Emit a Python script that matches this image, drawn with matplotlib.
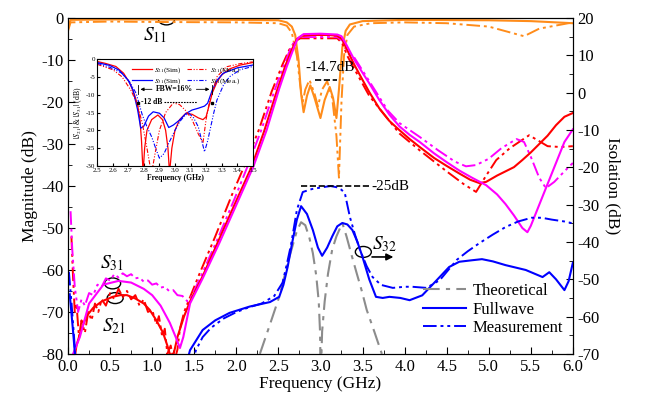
import matplotlib
matplotlib.use('Agg')
import matplotlib.pyplot as plt
from matplotlib.patches import Ellipse
from matplotlib.ticker import MultipleLocator

plt.rcParams['font.family'] = ['Liberation Serif', 'DejaVu Serif']
plt.rcParams['mathtext.fontset'] = 'stix'
plt.rcParams['axes.unicode_minus'] = False

# ---- main panel, left axis: Magnitude (dB) ----
s11_fw_f = [0.0, 0.03, 0.5, 1.0, 2.0, 2.5, 2.6, 2.66, 2.7, 2.74, 2.77, 2.8, 2.84, 2.88, 2.93, 3.0,
            3.05, 3.11, 3.15, 3.19, 3.22, 3.26, 3.3, 3.35, 3.5, 4.0, 5.0, 5.5, 6.0]
s11_fw = [-2.5, -0.4, -0.3, -0.3, -0.4, -0.5, -1.0, -2.0, -4.0, -10.0, -18.0, -22.4, -18.5, -16.0, -19.0, -23.8,
          -19.5, -16.4, -19.0, -23.8, -17.0, -7.0, -3.0, -1.5, -0.7, -0.4, -0.5, -0.7, -1.2]
s11_me_f = [0.0, 0.03, 0.5, 1.0, 2.0, 2.5, 2.6, 2.66, 2.72, 2.76, 2.79, 2.82, 2.87, 2.93, 2.97, 3.02,
            3.08, 3.14, 3.19, 3.22, 3.25, 3.28, 3.32, 3.4, 3.6, 4.0, 4.5, 5.0, 5.42, 5.6, 6.0]
s11_me = [-3.0, -1.0, -0.8, -0.9, -1.0, -1.2, -1.8, -3.5, -9.0, -16.0, -20.0, -17.0, -14.7, -18.0, -21.0, -17.0,
          -15.0, -19.0, -28.0, -38.0, -20.0, -9.0, -4.0, -2.0, -1.2, -1.0, -1.2, -2.0, -4.3, -2.5, -1.0]

s21_fw_f = [0.05, 0.1, 0.16, 0.22, 0.3, 0.4, 0.53, 0.62, 0.7, 0.8, 0.9, 0.97, 1.05, 1.13, 1.18, 1.21, 1.25,
            1.3, 1.38, 1.45, 1.6, 1.8, 2.0, 2.18, 2.33, 2.48, 2.58, 2.66, 2.72, 2.78, 2.9, 3.1, 3.2,
            3.26, 3.3, 3.4, 3.5, 3.58, 3.7, 3.82, 3.94, 4.06, 4.18, 4.35, 4.5, 4.65, 4.78, 4.89, 4.97,
            5.1, 5.2, 5.3, 5.4, 5.5, 5.6, 5.7, 5.8, 5.9, 6.0]
s21_fw = [-85, -78, -74, -71, -69, -67.5, -66.4, -66, -66, -66.8, -68, -69.5, -72, -75, -78, -80, -80.5,
          -76, -71, -67.5, -61.5, -52.5, -43.5, -35.5, -27, -17.5, -11.5, -7.5, -5, -4.2, -4.0, -4.0, -4.2,
          -5.0, -6.8, -11, -14.7, -17.6, -21.5, -24.5, -26.7, -28.8, -30.7, -33.3, -35.2, -37, -38.5, -39.3, -39,
          -37.5, -36.5, -35.5, -33.8, -32, -30, -28, -25.5, -23.5, -22.6]
s21_me_f = [0.04, 0.06, 0.08, 0.1, 0.13, 0.16, 0.2, 0.24, 0.28, 0.32, 0.36, 0.4, 0.45, 0.5, 0.55, 0.6, 0.65,
            0.7, 0.75, 0.8, 0.85, 0.9, 0.95, 1.0, 1.05, 1.08, 1.12, 1.15, 1.18, 1.22, 1.26, 1.3, 1.33,
            1.38, 1.42, 1.55, 1.75, 1.95, 2.1, 2.27, 2.42, 2.55, 2.63, 2.7, 2.76, 3.2, 3.26, 3.32, 3.4,
            3.58, 3.8, 3.94, 4.18, 4.5, 4.7, 4.85, 4.97, 5.09, 5.25, 5.48, 5.6, 5.7, 5.85, 6.0]
s21_me = [-52, -62, -70, -68, -76, -72, -75, -70, -72, -68, -70, -67, -68.5, -65.5, -67, -64.5, -66.5,
          -65, -67, -66, -68.5, -67, -70, -69.5, -73, -71, -76, -74, -80, -78, -82, -79, -74,
          -70, -68, -61.5, -52, -42, -35, -26.5, -17.5, -11, -7.5, -5.5, -4.8, -4.8, -6, -9, -12,
          -18.5, -24, -27.5, -31.5, -36.5, -39.5, -41.4, -37.5, -33.8, -31, -27.9, -29.3, -30.5, -30.7, -30.5]

s31_fw_f = [0.06, 0.14, 0.25, 0.42, 0.6, 0.75, 0.9, 1.0, 1.1, 1.21, 1.28, 1.33, 1.37, 1.45, 1.6, 1.8, 2.0,
            2.2, 2.36, 2.51, 2.6, 2.67, 2.73, 2.8, 3.0, 3.2, 3.25, 3.3, 3.4, 3.5, 3.58, 3.7, 3.82, 3.94,
            4.06, 4.18, 4.35, 4.5, 4.65, 4.8, 4.97, 5.1, 5.2, 5.3, 5.4, 5.46, 5.5, 5.6, 5.7, 5.8, 5.9, 6.0]
s31_fw = [-80, -76, -68, -63.5, -62.6, -63, -64.5, -66, -68.5, -72.6, -76, -78.6, -76, -68, -62, -53.5, -44.5,
          -35.5, -26.7, -16.8, -11.5, -7.8, -4.8, -3.8, -3.7, -3.9, -4.3, -6, -9.8, -13, -15.5, -19.5, -23, -25.8,
          -27.8, -29.5, -32.2, -34.3, -36.3, -38, -39.8, -42, -44.3, -47, -50, -51, -49.5, -44.5, -39.5, -34.5, -29.5, -26.5]
s31_me_f = [0.03, 0.05, 0.08, 0.12, 0.16, 0.2, 0.25, 0.3, 0.35, 0.4, 0.45, 0.5, 0.55, 0.6, 0.65, 0.7, 0.75,
            0.8, 0.85, 0.9, 0.95, 1.0, 1.05, 1.1, 1.15, 1.2, 1.25, 1.3, 1.36, 1.42, 1.45, 1.58, 1.78, 1.98,
            2.13, 2.3, 2.45, 2.56, 2.64, 2.7, 2.76, 3.2, 3.27, 3.33, 3.4, 3.58, 3.8, 3.94, 4.18, 4.4, 4.6,
            4.73, 4.85, 5.0, 5.15, 5.33, 5.42, 5.5, 5.6, 5.68, 5.78, 5.9, 6.0]
s31_me = [-46, -55, -64, -70, -67, -68.5, -65.5, -66, -63.5, -64, -62, -62.5, -61, -61.8, -60.8, -61.5, -61,
          -62, -61.8, -62.8, -62.5, -63.5, -63.2, -64.2, -64, -65, -64.8, -66, -66.2, -67.5, -67, -61.5, -52.5, -43,
          -35.5, -26.5, -17.5, -11.5, -7.5, -5.3, -4.5, -4.5, -5.5, -8.5, -9.3, -15, -22, -25, -28.3, -31.5, -34.2,
          -35.3, -35, -33.5, -31, -28.8, -29.5, -33, -38, -40.5, -39, -36.5, -34.5]

# ---- main panel, right axis: Isolation (dB), S32 ----
s32_th_f = [2.28, 2.4, 2.51, 2.63, 2.72, 2.77, 2.82, 2.87, 2.91, 2.95, 2.98, 2.995, 3.0, 3.01, 3.02, 3.05,
            3.09, 3.14, 3.19, 3.26, 3.31, 3.37, 3.43, 3.49, 3.55, 3.64, 3.73]
s32_th = [-70, -62.1, -54.7, -44.1, -37, -34.7, -35.5, -39, -43, -49, -56, -64, -72, -72, -64, -56,
          -48.5, -42, -38.5, -34.9, -38.5, -43.5, -48.3, -53, -58.2, -64, -70]
s32_fw_f = [0.02, 0.06, 0.1, 1.38, 1.45, 1.6, 1.75, 1.92, 2.16, 2.4, 2.51, 2.56, 2.61, 2.67, 2.72, 2.77, 2.84,
            2.91, 2.97, 3.02, 3.08, 3.14, 3.2, 3.26, 3.32, 3.38, 3.44, 3.5, 3.58, 3.66, 3.74, 3.82, 3.95,
            4.06, 4.21, 4.35, 4.53, 4.65, 4.8, 4.92, 5.05, 5.2, 5.44, 5.64, 5.72, 5.8, 5.9, 5.95, 6.0]
s32_fw = [-54, -64, -75, -75, -69, -63.6, -61, -59, -57.3, -56.1, -54.7, -51.5, -46.7, -39.5, -34, -30.4, -32.5,
          -36.8, -41.5, -43.7, -41.5, -38.5, -35.8, -34.9, -35.3, -36.8, -40, -44, -50, -54.7, -55, -54.7, -55,
          -55.6, -54.3, -51, -46.7, -45.3, -44.9, -44.6, -45.2, -46.2, -47.5, -49.4, -48.1, -50, -52.9, -50.5, -45.6]
s32_me_f = [0.01, 0.04, 0.07, 0.1, 1.45, 1.52, 1.6, 1.7, 1.85, 2.0, 2.15, 2.3, 2.45, 2.55, 2.6, 2.65, 2.72,
            2.79, 2.9, 3.03, 3.12, 3.19, 3.25, 3.29, 3.35, 3.41, 3.47, 3.55, 3.62, 3.72, 3.86, 4.0, 4.09,
            4.26, 4.42, 4.52, 4.62, 4.75, 4.89, 5.05, 5.2, 5.35, 5.51, 5.63, 5.75, 5.9, 6.0]
s32_me = [-48, -56, -65, -75, -75, -69, -65.5, -63, -60.5, -58.8, -57.5, -56.5, -54.5, -50.9, -46, -40.8, -31.4,
          -26.6, -25.8, -25.3, -25, -25.3, -26, -26.9, -33.3, -38, -42.1, -46.5, -49.4, -51.5, -52.3, -52, -52,
          -52.3, -50.2, -47.5, -44.8, -42.5, -40.3, -38, -36, -34.5, -33.5, -33.5, -34, -34.5, -35]

# ---- inset: |S21| & |S31| around the passband ----
in21_sim_f = [2.5, 2.55, 2.62, 2.67, 2.71, 2.74, 2.76, 2.775, 2.785, 2.795, 2.805, 2.82, 2.85, 2.89, 2.92,
              2.94, 2.955, 2.965, 2.98, 3.0, 3.03, 3.07, 3.11, 3.15, 3.18, 3.2, 3.22, 3.24, 3.27, 3.3,
              3.35, 3.42, 3.5]
in21_sim = [-0.7, -1.2, -2.1, -4, -6.8, -10, -13, -17, -23, -32, -25, -20, -17, -15.7, -17,
            -20, -25, -32, -25, -20, -17, -15.2, -15.5, -16.5, -17, -16.2, -13, -9.5, -6.5, -4.5,
            -2.8, -1.7, -1]
in21_mea_f = [2.5, 2.6, 2.66, 2.72, 2.76, 2.79, 2.82, 2.84, 2.85, 2.87, 2.9, 2.94, 2.99, 3.03, 3.07, 3.11,
              3.15, 3.18, 3.2, 3.22, 3.27, 3.33, 3.42, 3.5]
in21_mea = [-1.5, -3, -5, -9, -13, -18, -25, -30, -32, -27, -20, -15, -12.3, -12.8, -14.5, -17,
            -21, -23.5, -17, -12.4, -5, -2.2, -1.3, -0.8]
in31_sim_f = [2.5, 2.58, 2.64, 2.7, 2.73, 2.76, 2.78, 2.8, 2.83, 2.86, 2.9, 2.93, 2.96, 2.99, 3.03, 3.07,
              3.11, 3.15, 3.19, 3.21, 3.24, 3.27, 3.31, 3.4, 3.5]
in31_sim = [-1, -1.8, -3.1, -6, -8.7, -14.3, -19.4, -18.8, -16, -14.8, -15.2, -16.5, -19.2, -18.5, -17.1, -15.3,
            -14.3, -13.8, -13.2, -12.4, -8.7, -6, -4, -2.5, -1.7]
in31_mea_f = [2.5, 2.58, 2.66, 2.71, 2.75, 2.79, 2.82, 2.85, 2.88, 2.9, 2.93, 2.96, 3.0, 3.03, 3.06, 3.09,
              3.12, 3.15, 3.17, 3.19, 3.21, 3.23, 3.25, 3.27, 3.31, 3.35, 3.42, 3.5]
in31_mea = [-1.2, -2.3, -4, -6.5, -9.6, -15.7, -19, -21.8, -25.5, -27.8, -26.5, -23.6, -20, -17.6, -16, -15.2,
            -16.5, -19, -22.5, -26, -23, -19, -15, -11.5, -7.5, -5, -3, -2.1]

ORANGE = '#FF8C1A'
RED = '#FF0000'
MAG = '#FF00FF'
BLUE = '#0000FF'
GRAY = '#8C8C8C'
MEAS = (0, (7, 2, 1.5, 2, 1.5, 2))
DASHDOT = (0, (8, 3, 2, 3))

fig = plt.figure(figsize=(6.48, 4.04), dpi=100)
ax = fig.add_axes([0.105, 0.124, 0.779, 0.831])

ax.plot(s11_me_f, s11_me, color=ORANGE, ls=MEAS, lw=1.4)
ax.plot(s11_fw_f, s11_fw, color=ORANGE, lw=1.5)
ax.plot(s21_me_f, s21_me, color=RED, ls=MEAS, lw=1.4)
ax.plot(s31_me_f, s31_me, color=MAG, ls=MEAS, lw=1.4)
ax.plot(s21_fw_f, s21_fw, color=RED, lw=1.5)
ax.plot(s31_fw_f, s31_fw, color=MAG, lw=1.5)

ax.set_xlim(0, 6)
ax.set_ylim(-80, 0)
ax.xaxis.set_major_locator(MultipleLocator(0.5))
ax.xaxis.set_minor_locator(MultipleLocator(0.25))
ax.yaxis.set_major_locator(MultipleLocator(10))
ax.yaxis.set_minor_locator(MultipleLocator(5))
ax.xaxis.set_major_formatter(plt.FormatStrFormatter('%.1f'))
ax.tick_params(which='both', direction='in', labelsize=12, top=False)
ax.tick_params(which='major', length=5)
ax.tick_params(which='minor', length=3)
ax.set_xlabel('Frequency (GHz)', fontsize=12.5, labelpad=1)
ax.set_ylabel('Magnitude (dB)', fontsize=12.5, labelpad=2)

ax2 = ax.twinx()
ax2.plot(s32_th_f, s32_th, color=GRAY, ls=DASHDOT, lw=1.5, label='Theoretical')
ax2.plot(s32_fw_f, s32_fw, color=BLUE, lw=1.5, label='Fullwave')
ax2.plot(s32_me_f, s32_me, color=BLUE, ls=MEAS, lw=1.4, label='Measurement')
ax2.set_ylim(-70, 20)
ax2.yaxis.set_major_locator(MultipleLocator(10))
ax2.yaxis.set_minor_locator(MultipleLocator(5))
ax2.tick_params(which='both', direction='in', labelsize=12)
ax2.tick_params(which='major', length=5)
ax2.tick_params(which='minor', length=3)
ax2.set_ylabel('Isolation (dB)', fontsize=12.5, rotation=270, labelpad=15)
ax2.legend(loc='upper left', bbox_to_anchor=(0.68, 0.245), frameon=False, fontsize=12,
           handlelength=2.6, labelspacing=0.15, borderpad=0.2, handletextpad=0.4)

# annotations
ax.add_patch(Ellipse((1.17, -0.3), 0.19, 2.6, fill=False, ec='black', lw=1))
ax.text(1.03, -4.0, r'$S_{11}$', fontsize=14, ha='center', va='center')
ax.add_patch(Ellipse((0.53, -63.2), 0.19, 2.6, fill=False, ec='black', lw=1))
ax.text(0.52, -58.4, r'$S_{31}$', fontsize=14, ha='center', va='center')
ax.add_patch(Ellipse((0.56, -66.7), 0.19, 2.6, fill=False, ec='black', lw=1))
ax.text(0.55, -73.3, r'$S_{21}$', fontsize=14, ha='center', va='center')
ax.add_patch(Ellipse((3.51, -55.7), 0.19, 2.6, fill=False, ec='black', lw=1))
ax.text(3.76, -53.8, r'$S_{32}$', fontsize=14, ha='center', va='center')
ax.annotate('', xy=(3.9, -56.9), xytext=(3.58, -56.9),
            arrowprops=dict(arrowstyle='-|>', color='black', lw=1.2, mutation_scale=10))
ax.plot([2.93, 3.2], [-14.7, -14.7], color='black', ls='--', lw=1.2)
ax.text(3.11, -11.8, '-14.7dB', fontsize=11, ha='center', va='center')
ax2.plot([2.77, 3.58], [-25, -25], color='black', ls='--', lw=1.2)
ax2.text(3.61, -25, '-25dB', fontsize=11, ha='left', va='center')

# inset
axin = fig.add_axes([0.150, 0.589, 0.240, 0.265])
axin.plot(in21_sim_f, in21_sim, color=RED, lw=0.9, label=r'$S_{21}$(Sim)')
axin.plot(in31_sim_f, in31_sim, color=BLUE, lw=0.9, label=r'$S_{31}$(Sim)')
axin.plot(in21_mea_f, in21_mea, color=RED, ls=(0, (4, 1.5, 1, 1.5, 1, 1.5)), lw=0.8, label=r'$S_{21}$(Mea.)')
axin.plot(in31_mea_f, in31_mea, color=BLUE, ls=(0, (4, 1.5, 1, 1.5, 1, 1.5)), lw=0.8, label=r'$S_{31}$(Mea.)')
axin.set_xlim(2.5, 3.5)
axin.set_ylim(-30, 0)
axin.xaxis.set_major_locator(MultipleLocator(0.1))
axin.yaxis.set_major_locator(MultipleLocator(5))
axin.xaxis.set_major_formatter(plt.FormatStrFormatter('%.1f'))
axin.tick_params(direction='in', labelsize=5, length=2, pad=1.5)
axin.set_xlabel('Frequency (GHz)', fontsize=5.5, fontweight='bold', labelpad=0.5)
axin.set_ylabel(r'$|S_{21}|$ & $|S_{31}|$ (dB)', fontsize=5.5, labelpad=1)
axin.legend(ncol=2, loc='upper center', bbox_to_anchor=(0.57, 1.0), frameon=False, fontsize=5.2,
            handlelength=2.8, columnspacing=0.8, labelspacing=0.2, handletextpad=0.3)
axin.annotate('', xy=(2.76, -8.5), xytext=(2.87, -8.5),
              arrowprops=dict(arrowstyle='-|>', color='black', lw=0.6, mutation_scale=5))
axin.annotate('', xy=(3.24, -8.5), xytext=(3.12, -8.5),
              arrowprops=dict(arrowstyle='-|>', color='black', lw=0.6, mutation_scale=5))
axin.text(2.995, -8.5, 'FBW=16%', fontsize=5.5, fontweight='bold', ha='center', va='center')
axin.plot([2.76, 2.76], [-7.3, -9.7], color='black', lw=0.6)
axin.plot([3.24, 3.24], [-7.3, -9.7], color='black', lw=0.6)
axin.text(2.78, -12, '-12 dB', fontsize=5.5, fontweight='bold', ha='left', va='center')
axin.plot([2.93, 3.14], [-12, -12], color='black', ls=(0, (1.5, 1)), lw=0.8)
axin.plot([2.765, 3.235], [-12.2, -12.2], ls='none', marker='s', ms=1.5, color='black')

fig.savefig('out.png', dpi=100)
